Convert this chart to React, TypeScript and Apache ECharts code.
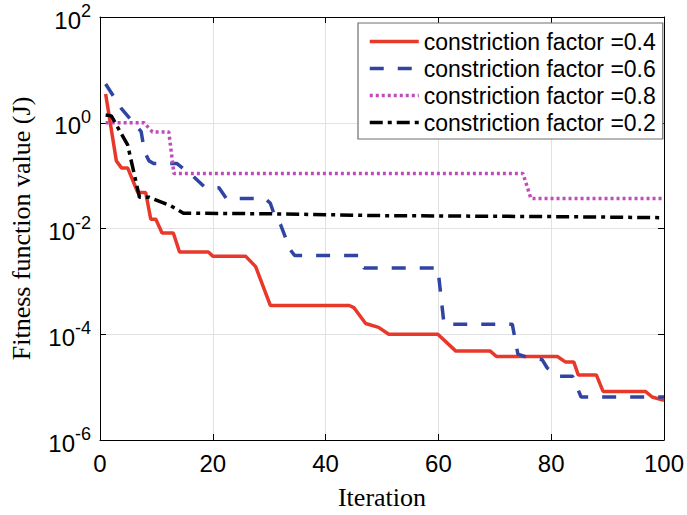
import React, { useEffect, useRef } from "react";
import * as echarts from "echarts";

const seriesNames = [
  "constriction factor =0.4",
  "constriction factor =0.6",
  "constriction factor =0.8",
  "constriction factor =0.2",
];

const cf04: [number, number][] = [
  [1, 3.5], [2.9, 0.19], [3.8, 0.14], [4.9, 0.14], [6.7, 0.048], [8.1, 0.048],
  [9, 0.015], [9.9, 0.015], [11, 0.0082], [13, 0.0082], [14.1, 0.0036],
  [19.2, 0.0036], [20, 0.003], [25.8, 0.003], [27.6, 0.0019], [30.2, 0.00035],
  [44.2, 0.00035], [45, 0.00032], [47.1, 0.00016], [49.4, 0.000135],
  [51.2, 0.0001], [59.9, 0.0001], [63.1, 4.8e-5], [69.2, 4.8e-5], [70.3, 3.8e-5],
  [81.1, 3.8e-5], [82.5, 3.0e-5], [84, 3.0e-5], [84.8, 1.7e-5], [88, 1.7e-5],
  [89.2, 8.3e-6], [96.7, 8.3e-6], [97.9, 6.5e-6], [100, 5.6e-6],
];

const cf06: [number, number][] = [
  [1, 5.4], [3.8, 1.85], [7.3, 0.68], [7.9, 0.28], [8.7, 0.19], [9.5, 0.17],
  [13.6, 0.17], [16.5, 0.098], [18.6, 0.06], [21.1, 0.059], [22.4, 0.037],
  [29.3, 0.037], [30.2, 0.03], [31, 0.017], [32, 0.012], [33.7, 0.004],
  [34.5, 0.0031], [45.9, 0.0031], [46.8, 0.0018], [59.9, 0.0018],
  [61, 0.000155], [73.1, 0.000155], [74.1, 4.2e-5], [76, 3.6e-5],
  [78.4, 3.3e-5], [79.3, 2.3e-5], [81.1, 1.6e-5], [83.8, 1.6e-5],
  [85.3, 6.5e-6], [100, 6.5e-6],
];

const cf08: [number, number][] = [
  [1, 1.0], [7.8, 1.0], [9.3, 0.67], [12.2, 0.67], [13.1, 0.11], [75, 0.11],
  [76.4, 0.037], [100, 0.037],
];

const cf02: [number, number][] = [
  [1, 1.4], [2, 1.35], [4.9, 0.38], [7, 0.039], [8.7, 0.039], [12.5, 0.027],
  [14.8, 0.0195], [30, 0.019], [50, 0.0175], [80, 0.0168], [100, 0.016],
];

const colors = ["#e8382a", "#3044a3", "#c04cbc", "#000000"];
const dashes: (number[] | "solid")[] = ["solid", [14, 14], [3, 3], [13, 5, 4, 5]];
const dataSets = [cf04, cf06, cf08, cf02];

const sansFont = "Liberation Sans, Arial, Helvetica, sans-serif";
const serifFont = "Liberation Serif, Times New Roman, serif";

export default function App() {
  const ref = useRef<HTMLDivElement>(null);
  useEffect(() => {
    if (!ref.current) return;
    const chart = echarts.init(ref.current, undefined, { renderer: "svg" });
    const axisLine = { show: true, onZero: false, lineStyle: { color: "#000", width: 1 } };
    const axisTick = { show: true, inside: true, length: 6, lineStyle: { color: "#000", width: 1 } };
    const gridLine = { show: true, lineStyle: { color: "#e2e2e2", width: 1 } };
    chart.setOption({
      animation: false,
      backgroundColor: "#fff",
      grid: { left: 93, right: 20, top: 17, bottom: 69, containLabel: false },
      xAxis: [
        {
          type: "value", min: 0, max: 100, interval: 20, position: "bottom",
          axisLine, axisTick,
          axisLabel: { fontFamily: sansFont, fontSize: 24, color: "#000", margin: 11 },
          splitLine: gridLine,
          name: "Iteration", nameLocation: "middle", nameGap: 44,
          nameTextStyle: { fontFamily: serifFont, fontSize: 26, color: "#000" },
        },
        {
          type: "value", min: 0, max: 100, interval: 20, position: "top",
          axisLine, axisTick, axisLabel: { show: false }, splitLine: { show: false },
        },
      ],
      yAxis: [
        {
          type: "log", logBase: 10, min: 1e-6, max: 100, interval: 2, position: "left",
          axisLine, axisTick,
          minorTick: { show: false }, minorSplitLine: { show: false },
          axisLabel: {
            margin: 9,
            formatter: (v: number) => `{b|10}{s|${Math.round(Math.log10(v))}}`,
            rich: {
              b: { fontFamily: sansFont, fontSize: 24, color: "#000", verticalAlign: "bottom", padding: [6, 0, 0, 0] },
              s: { fontFamily: sansFont, fontSize: 18, color: "#000", verticalAlign: "top" },
            },
          },
          splitLine: gridLine,
          name: "Fitness function value (J)", nameLocation: "middle", nameGap: 66,
          nameTextStyle: { fontFamily: serifFont, fontSize: 26, color: "#000" },
        },
        {
          type: "log", logBase: 10, min: 1e-6, max: 100, interval: 2, position: "right",
          axisLine, axisTick, axisLabel: { show: false }, splitLine: { show: false },
        },
      ],
      legend: {
        orient: "vertical", left: 358, top: 23,
        itemWidth: 49, itemHeight: 14, itemGap: 4,
        padding: [7, 7, 5, 10],
        backgroundColor: "#fff", borderColor: "#6e6e6e", borderWidth: 1.2, borderRadius: 0,
        itemStyle: { opacity: 0, borderWidth: 0 },
        lineStyle: { width: 3.5 },
        textStyle: { fontFamily: sansFont, fontSize: 23, color: "#000", lineHeight: 23 },
        data: seriesNames,
      },
      series: dataSets.map((d, i) => ({
        name: seriesNames[i],
        type: "line",
        data: d,
        xAxisIndex: 0,
        yAxisIndex: 0,
        symbol: "none",
        showSymbol: false,
        clip: true,
        lineStyle: { color: colors[i], width: 3.5, type: dashes[i], cap: "butt" },
        itemStyle: { color: colors[i] },
      })),
    });
    return () => chart.dispose();
  }, []);
  return (
    <div
      ref={ref}
      style={{ position: "fixed", left: 0, top: 0, width: 687, height: 515, background: "#fff" }}
    />
  );
}
